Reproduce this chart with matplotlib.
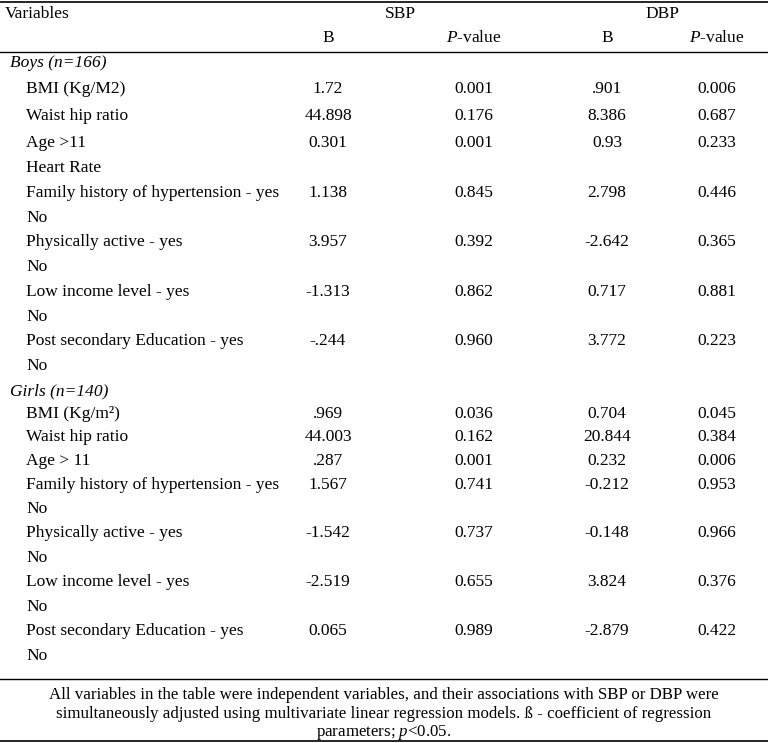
import matplotlib.pyplot as plt

plt.rcParams['font.family'] = ['Liberation Serif', 'DejaVu Serif']
plt.rcParams['mathtext.fontset'] = 'custom'
plt.rcParams['mathtext.rm'] = 'Liberation Serif'
plt.rcParams['mathtext.it'] = 'Liberation Serif:italic'

# table content
groups = ["Boys (n=166)", "Girls (n=140)"]
boys_vars = ["BMI (Kg/M2)", "Waist hip ratio", "Age >11", "Heart Rate",
             "Family history of hypertension - yes", "No",
             "Physically active - yes", "No",
             "Low income level - yes", "No",
             "Post secondary Education - yes", "No"]
boys_sbp_b = ["1.72", "44.898", "0.301", "", "1.138", "", "3.957", "", "-1.313", "", "-.244", ""]
boys_sbp_p = ["0.001", "0.176", "0.001", "", "0.845", "", "0.392", "", "0.862", "", "0.960", ""]
boys_dbp_b = [".901", "8.386", "0.93", "", "2.798", "", "-2.642", "", "0.717", "", "3.772", ""]
boys_dbp_p = ["0.006", "0.687", "0.233", "", "0.446", "", "0.365", "", "0.881", "", "0.223", ""]

girls_vars = ["BMI (Kg/m\u00b2)", "Waist hip ratio", "Age > 11",
              "Family history of hypertension - yes", "No",
              "Physically active - yes", "No",
              "Low income level - yes", "No",
              "Post secondary Education - yes", "No"]
girls_sbp_b = [".969", "44.003", ".287", "1.567", "", "-1.542", "", "-2.519", "", "0.065", ""]
girls_sbp_p = ["0.036", "0.162", "0.001", "0.741", "", "0.737", "", "0.655", "", "0.989", ""]
girls_dbp_b = ["0.704", "20.844", "0.232", "-0.212", "", "-0.148", "", "3.824", "", "-2.879", ""]
girls_dbp_p = ["0.045", "0.384", "0.006", "0.953", "", "0.966", "", "0.376", "", "0.422", ""]

footnote = ["All variables in the table were independent variables, and their associations with SBP or DBP were",
            "simultaneously adjusted using multivariate linear regression models. \u00df - coefficient of regression",
            "parameters; $\\it{p}$<0.05."]

W, H = 768, 743
fig = plt.figure(figsize=(W / 100, H / 100), dpi=100)
ax = fig.add_axes([0, 0, 1, 1])
ax.set_xlim(0, W)
ax.set_ylim(H, 0)
ax.axis('off')

fs = 12.5
col_x = [328, 474, 607, 717]

# rules
ax.plot([0, W], [1.5, 1.5], color='black', lw=1.2)
ax.plot([0, W], [51.5, 51.5], color='black', lw=1.0)
ax.plot([0, W], [679, 679], color='black', lw=1.0)
ax.plot([0, W], [741, 741], color='black', lw=1.2)

# header
ax.text(5, 14, "Variables", fontsize=fs, va='center', ha='left')
ax.text(400, 14, "SBP", fontsize=fs, va='center', ha='center')
ax.text(662, 14, "DBP", fontsize=fs, va='center', ha='center')
for x, lab in zip(col_x, ["B", "$\\it{P}$-value", "B", "$\\it{P}$-value"]):
    ax.text(x, 38, lab, fontsize=fs, va='center', ha='center')

boys_y = [89, 116, 143, 168, 193, 218, 242, 267, 292, 317, 341, 366]
girls_y = [414, 437, 461, 485, 509, 533, 558, 582, 607, 631, 656]

ax.text(10, 63, groups[0], fontsize=fs, va='center', ha='left', style='italic')
ax.text(10, 391, groups[1], fontsize=fs, va='center', ha='left', style='italic')

for ys, names, cols in [(boys_y, boys_vars, [boys_sbp_b, boys_sbp_p, boys_dbp_b, boys_dbp_p]),
                        (girls_y, girls_vars, [girls_sbp_b, girls_sbp_p, girls_dbp_b, girls_dbp_p])]:
    for i, y in enumerate(ys):
        ax.text(26, y, names[i], fontsize=fs, va='center', ha='left')
        for x, c in zip(col_x, cols):
            if c[i]:
                ax.text(x, y, c[i], fontsize=fs, va='center', ha='center')

for y, line in zip([695, 714, 732], footnote):
    ax.text(W / 2, y, line, fontsize=12.2, va='center', ha='center')

fig.savefig("out.png", dpi=100)
